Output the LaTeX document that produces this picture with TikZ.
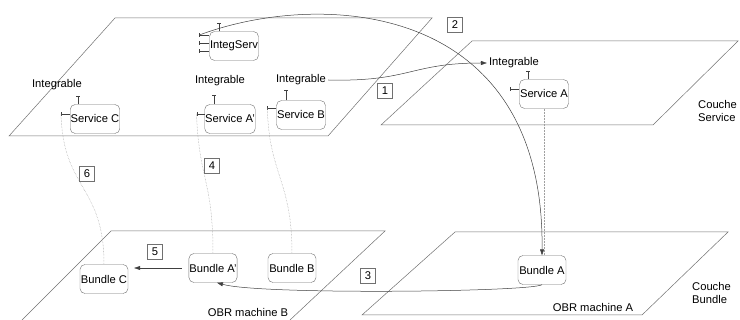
\documentclass[tikz,border=0pt]{standalone}
\usepackage{fontspec}
\setmainfont{Liberation Sans}
\usetikzlibrary{arrows.meta}
\definecolor{PlaneGray}{HTML}{707070}
\definecolor{BoxGray}{HTML}{707070}
\definecolor{DotGray}{HTML}{A0A0A0}
\definecolor{LinkGray}{HTML}{404040}
\newcommand{\dfont}{\fontsize{11.2}{13}\selectfont}

\begin{document}
\begin{tikzpicture}[x=1pt,y=-1pt,
  nd/.style={draw=BoxGray, rounded corners=5pt, minimum width=48pt,
             minimum height=29pt, inner xsep=0.5pt, font=\dfont},
  num/.style={draw=BoxGray, minimum width=15pt, minimum height=15pt,
              inner sep=0pt, font=\dfont},
  lbl/.style={inner sep=2pt, font=\dfont},
  plane/.style={draw=PlaneGray, line width=0.5pt},
  prov/.style={draw=LinkGray, line width=0.5pt, -{Bar[width=4pt]}},
  req/.style={draw=LinkGray, line width=0.5pt, -{Bar[width=4pt]}},
  dotline/.style={draw=DotGray, line width=0.5pt, densely dotted},
  conn/.style={draw=LinkGray, line width=0.5pt,
               -{Triangle[length=6pt,width=4pt]}}]
  \useasboundingbox (0,0) rectangle (740,320);
  % planes
  \draw[plane] (9,136) -- (115,18) -- (432,18) -- (328,136) -- cycle;
  \draw[plane] (381,125) -- (472,41) -- (738,41) -- (653,125) -- cycle;
  \draw[plane] (22,320) -- (111,231) -- (385,231) -- (290,320);
  \draw[plane] (362,315) -- (455,232) -- (728,232) -- (642,315) -- cycle;
  % services
  \node[nd] (IS)  at (234,46)  {IntegServ};
  \node[nd] (SC)  at (95,119)  {Service C};
  \node[nd] (SAp) at (230,119) {Service A'};
  \node[nd] (SB)  at (301,115) {Service B};
  \node[nd] (SA)  at (544,94)  {Service A};
  % bundles
  \node[nd] (BC)  at (104,279) {Bundle C};
  \node[nd] (BAp) at (213,268) {Bundle A'};
  \node[nd] (BB)  at (292,268) {Bundle B};
  \node[nd] (BA)  at (542,270) {Bundle A};
  % interfaces
  \draw[prov] ([xshift=-15pt]IS.north) -- ++(0,-8);
  \foreach \dy/\nm in {11/IS1, 3/IS2, -5/IS3}
    \draw[req] ([yshift=\dy pt]IS.west) -- ++(-10,0) coordinate (\nm);
  \draw[prov] ([xshift=-17pt]SC.north) -- ++(0,-8);
  \draw[req] ([yshift=5pt]SC.west) -- ++(-9,0) coordinate (SCr);
  \draw[prov] ([xshift=-16pt]SAp.north) -- ++(0,-9);
  \draw[req] ([yshift=5pt]SAp.west) -- ++(-8,0) coordinate (SApr);
  \draw[prov] ([xshift=-15pt]SB.north) -- ++(0,-10);
  \draw[req] ([yshift=7pt]SB.west) -- ++(-9,0) coordinate (SBr);
  \draw[prov] ([xshift=-16pt]SA.north) -- ++(0,-8);
  \draw[req] ([yshift=5pt]SA.west) -- ++(-9,0) coordinate (SAr);
  \node[lbl] (IC)  at (57,85)  {Integrable};
  \node[lbl] (IAp) at (220,81) {Integrable};
  \node[lbl] (IB)  at (301,80) {Integrable};
  \node[lbl] (IA)  at (514,63) {Integrable};
  % links
  \draw[conn] (IB.east) .. controls (410,82) and (410,63) .. (IA.west);
  \draw[conn] (IS1) .. controls (320,-10) and (545,0) .. (BA.north);
  \draw[conn] (BA.south) .. controls (530,292) and (260,295) .. ([xshift=4pt]BAp.south);
  \draw[conn] ([xshift=-7pt]BAp.west) -- ([xshift=6pt]BC.east |- BAp.west);
  \draw[dotline] (SCr) .. controls (63,190) and (104,185) .. (BC.north);
  \draw[dotline] (SApr) .. controls (199,180) and (213,180) .. (BAp.north);
  \draw[dotline] (SBr) .. controls (269,175) and (292,180) .. (BB.north);
  \draw[dotline] (SA.south) -- (SA.south |- BA.north);
  % steps
  \node[num] (n1) at (385,91)  {1};
  \node[num] (n2) at (455,25)  {2};
  \node[num] (n3) at (368,276) {3};
  \node[num] (n4) at (212,166) {4};
  \node[num] (n5) at (155,252) {5};
  \node[num] (n6) at (87,174)  {6};
  % layer labels
  \node[lbl, align=left, anchor=west] (CS) at (696,111) {Couche\\Service};
  \node[lbl, align=left, anchor=west] (CB) at (690,293) {Couche\\Bundle};
  \node[lbl] (OB) at (248,312) {OBR machine B};
  \node[lbl] (OA) at (593,307) {OBR machine A};
\end{tikzpicture}
\end{document}
